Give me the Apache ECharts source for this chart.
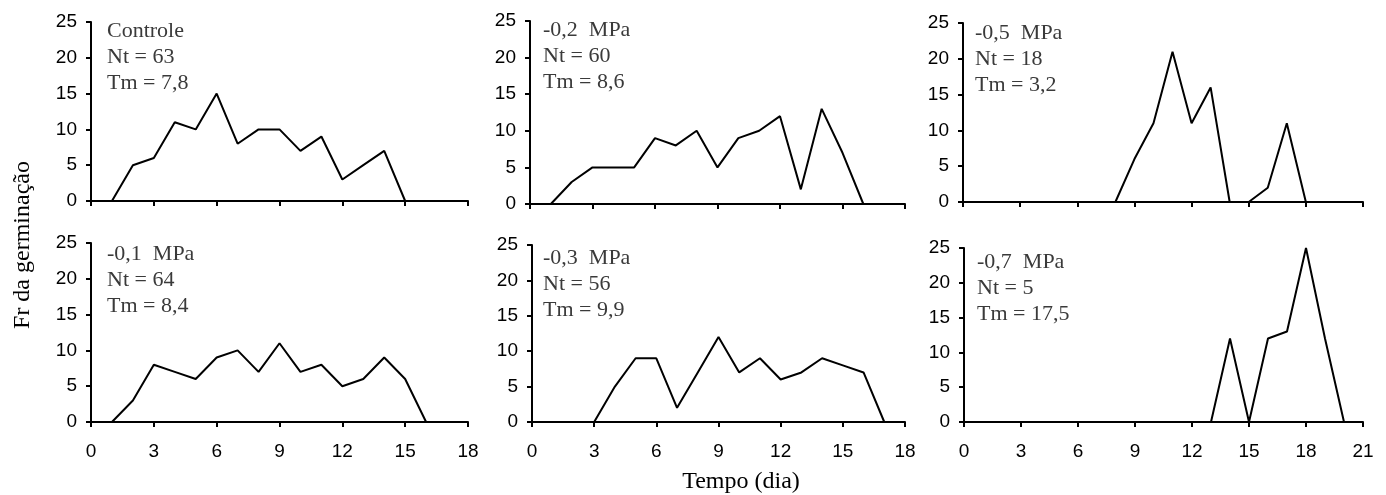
<!DOCTYPE html>
<html>
<head>
<meta charset="utf-8">
<script src="https://cdn.jsdelivr.net/npm/echarts@6/dist/echarts.min.js"></script>
<style>
  html, body { margin: 0; padding: 0; background: #fff; }
  #chart { width: 1386px; height: 495px; }
</style>
</head>
<body>
<div id="chart"></div>
<script>
// Germination frequency (%) per day for each osmotic potential
const controleDays = [1, 2, 3, 4, 5, 6, 7, 8, 9, 10, 11, 12, 13, 14, 15, 16, 17];
const controleFr   = [0, 5, 6, 11, 10, 15, 8, 10, 10, 7, 9, 3, 5, 7, 0, 0, 0];

const mpa01Days = [1, 2, 3, 4, 5, 6, 7, 8, 9, 10, 11, 12, 13, 14, 15, 16, 17];
const mpa01Fr   = [0, 3, 8, 7, 6, 9, 10, 7, 11, 7, 8, 5, 6, 9, 6, 0, 0];

const mpa02Days = [1, 2, 3, 4, 5, 6, 7, 8, 9, 10, 11, 12, 13, 14, 15, 16, 17];
const mpa02Fr   = [0, 3, 5, 5, 5, 9, 8, 10, 5, 9, 10, 12, 2, 13, 7, 0, 0];

const mpa03Days = [1, 2, 3, 4, 5, 6, 7, 8, 9, 10, 11, 12, 13, 14, 15, 16, 17];
const mpa03Fr   = [0, 0, 0, 5, 9, 9, 2, 7, 12, 7, 9, 6, 7, 9, 8, 7, 0];

const mpa05Days = [7, 8, 9, 10, 11, 12, 13, 14, 15, 16, 17, 18];
const mpa05Fr   = [0, 0, 6, 11, 21, 11, 16, 0, 0, 2, 11, 0];

const mpa07Days = [1, 2, 3, 4, 5, 6, 7, 8, 9, 10, 11, 12, 13, 14, 15, 16, 17, 18, 19, 20];
const mpa07Fr   = [0, 0, 0, 0, 0, 0, 0, 0, 0, 0, 0, 0, 0, 12, 0, 12, 13, 25, 12, 0];

// Panel captions: treatment, total germinated (Nt), mean time (Tm)
const captions = [
  ['Controle', 'Nt = 63', 'Tm = 7,8'],
  ['-0,2  MPa', 'Nt = 60', 'Tm = 8,6'],
  ['-0,5  MPa', 'Nt = 18', 'Tm = 3,2'],
  ['-0,1  MPa', 'Nt = 64', 'Tm = 8,4'],
  ['-0,3  MPa', 'Nt = 56', 'Tm = 9,9'],
  ['-0,7  MPa', 'Nt = 5', 'Tm = 17,5']
];

const xMaxes = [18, 18, 21, 18, 18, 21];
const yTicks = { min: 0, max: 25, interval: 5 };
const xInterval = 3;
const xTitle = 'Tempo (dia)';
const yTitle = 'Fr da germinação';

const panelData = [
  [controleDays, controleFr],
  [mpa02Days, mpa02Fr],
  [mpa05Days, mpa05Fr],
  [mpa01Days, mpa01Fr],
  [mpa03Days, mpa03Fr],
  [mpa07Days, mpa07Fr]
];

// Plot-area rectangles (px) and caption anchors
const grids = [
  { left: 91,  top: 22,  width: 377, height: 179 },
  { left: 530, top: 21,  width: 375, height: 183 },
  { left: 963, top: 23,  width: 400, height: 179 },
  { left: 91,  top: 243, width: 377, height: 179 },
  { left: 532, top: 245, width: 373, height: 177 },
  { left: 964, top: 248, width: 399, height: 174 }
];
const captionPos = [
  [107, 18], [543, 17], [975, 20],
  [107, 241], [543, 245], [977, 249]
];

const sansFont = '"Liberation Sans", Arial, sans-serif';
const serifFont = '"Liberation Serif", "Times New Roman", serif';

const axisLine = { show: true, lineStyle: { color: '#000', width: 2 } };
const axisTick = { show: true, inside: false, length: 5, lineStyle: { color: '#000', width: 2 } };

const option = {
  animation: false,
  backgroundColor: '#fff',
  grid: grids.map(g => Object.assign({ containLabel: false }, g)),
  xAxis: grids.map((g, i) => ({
    type: 'value',
    gridIndex: i,
    min: 0,
    max: xMaxes[i],
    interval: xInterval,
    axisLine: axisLine,
    axisTick: axisTick,
    splitLine: { show: false },
    axisLabel: {
      show: i >= 3,
      margin: 20,
      color: '#000',
      fontFamily: sansFont,
      fontSize: 19
    }
  })),
  yAxis: grids.map((g, i) => ({
    type: 'value',
    gridIndex: i,
    min: yTicks.min,
    max: yTicks.max,
    interval: yTicks.interval,
    axisLine: axisLine,
    axisTick: axisTick,
    splitLine: { show: false },
    axisLabel: {
      margin: 14,
      color: '#000',
      fontFamily: sansFont,
      fontSize: 19
    }
  })),
  series: panelData.map((d, i) => ({
    type: 'line',
    xAxisIndex: i,
    yAxisIndex: i,
    data: d[0].map((x, k) => [x, d[1][k]]),
    symbol: 'none',
    clip: false,
    z: 5,
    lineStyle: { color: '#000', width: 2 }
  })),
  graphic: captions.map((c, i) => ({
    type: 'text',
    x: captionPos[i][0],
    y: captionPos[i][1],
    z: 10,
    style: {
      text: c.join('\n'),
      font: '22px ' + serifFont,
      lineHeight: 26,
      fill: '#3a3a3a',
      textAlign: 'left',
      textVerticalAlign: 'top'
    }
  })).concat([
    {
      type: 'text',
      x: 741,
      y: 482,
      style: {
        text: xTitle,
        font: '24px ' + serifFont,
        fill: '#000',
        textAlign: 'center',
        textVerticalAlign: 'middle'
      }
    },
    {
      type: 'text',
      x: 23,
      y: 245,
      rotation: Math.PI / 2,
      style: {
        text: yTitle,
        font: '24px ' + serifFont,
        fill: '#000',
        textAlign: 'center',
        textVerticalAlign: 'middle'
      }
    }
  ])
};

const chart = echarts.init(document.getElementById('chart'), null, { renderer: 'canvas' });
chart.setOption(option);
</script>
</body>
</html>
